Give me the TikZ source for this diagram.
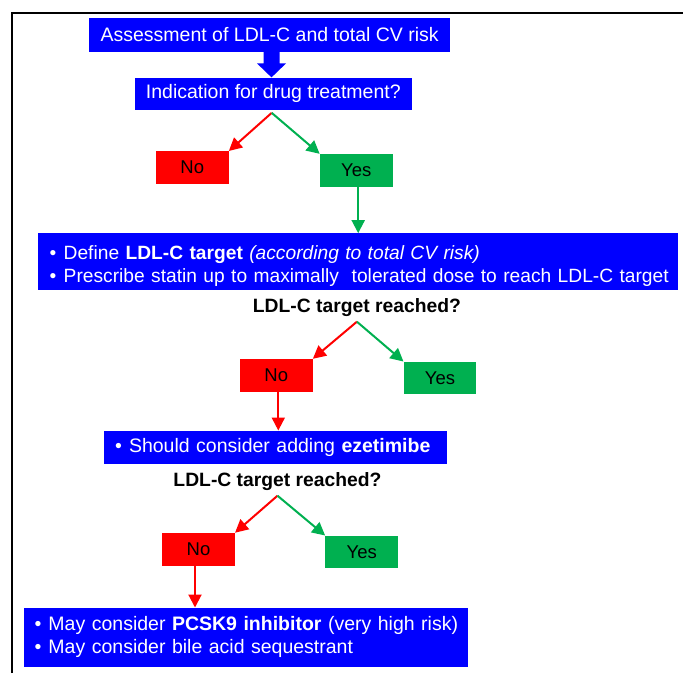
\documentclass[tikz,border=0pt]{standalone}
\usepackage{fontspec}
\setmainfont{Liberation Sans}
\usetikzlibrary{arrows.meta,calc}
\definecolor{pblue}{RGB}{0,0,255}
\definecolor{pred}{RGB}{255,0,0}
\definecolor{pgreen}{RGB}{0,176,80}
\newcommand{\bul}{\makebox[14pt][l]{•}}
\begin{document}
\begin{tikzpicture}[x=1pt,y=-1pt,
  bluebox/.style={fill=pblue,text=white,inner sep=0pt,font=\fontsize{19.5}{23.3}\selectfont},
  choice/.style={text=black,inner sep=0pt,font=\fontsize{18.5}{20}\selectfont,minimum width=72.7pt,minimum height=32.6pt},
  nobox/.style={choice,fill=pred},
  yesbox/.style={choice,fill=pgreen},
  question/.style={font=\bfseries\fontsize{19.3}{22}\selectfont,inner sep=0pt,anchor=base},
  redarr/.style={draw=pred,line width=2pt,-{Triangle[length=13pt,width=13pt]}},
  greenarr/.style={draw=pgreen,line width=2pt,-{Triangle[length=13pt,width=13pt]}},
  frameline/.style={line width=2pt,draw=black}
]
\useasboundingbox (0,0) rectangle (683,673);
% frame
\draw[frameline] (11.5,673) -- (11.5,12.5) -- (683,12.5);

% boxes
\node[bluebox,minimum width=360.7pt,minimum height=33.4pt] (box1) at (269.7,35) {Assessment of LDL-C and total CV risk};
\node[bluebox,minimum width=276.6pt,minimum height=32.3pt] (box2) at (273.3,93.8) {Indication for drug treatment?};

\node[nobox] (no1) at (192.3,167.5) {No};
\node[yesbox] (yes1) at (356.2,170.3) {Yes};

\node[bluebox,font=\fontsize{19.2}{23.3}\selectfont,align=left,inner xsep=12pt,text width=616.6pt,minimum height=56.7pt] (box3) at (358,261.7)
  {\mbox{\rule{0pt}{23pt}\bul Define \textbf{LDL-C target} \textit{(according to total CV risk)}}\\
   \mbox{\bul Prescribe statin up to maximally\ \ tolerated dose to reach LDL-C target}};

\node[question] (q2) at (356.9,312.7) {LDL-C target reached?};
\coordinate (q2s) at ([yshift=-9pt]q2.base);
\node[nobox] (no2) at (276.3,375.3) {No};
\node[yesbox] (yes2) at (440,378) {Yes};

\node[bluebox,align=left,inner xsep=11pt,text width=321.3pt,minimum height=32.8pt] (box4) at (275.7,447.1)
  {\mbox{\bul Should consider adding \textbf{ezetimibe}}};

\node[question] (q3) at (277.5,486.7) {LDL-C target reached?};
\coordinate (q3s) at ([yshift=-9pt]q3.base);
\node[nobox] (no3) at (198.5,549.2) {No};
\node[yesbox] (yes3) at (361.7,552) {Yes};

\node[bluebox,align=left,inner xsep=10.5pt,text width=423pt,minimum height=59pt] (box5) at (246,637.2)
  {\mbox{\bul May consider \textbf{PCSK9 inhibitor} (very high risk)}\\
   \mbox{\bul May consider bile acid sequestrant}};

% block arrow box1 -> box2
\coordinate (bt) at ([xshift=1.8pt]box1.south);
\fill[pblue] (bt) ++(-8,0) -- ++(16,0) -- ++(0,11.5) -- ++(6.5,0) -- ++(-14.5,14) -- ++(-14.5,-14) -- ++(6.5,0) -- cycle;

% first decision
\coordinate (d1) at ([xshift=-1.6pt,yshift=-2.7pt]box2.south);
\draw[redarr] (d1) -- (no1.north east);
\draw[greenarr] (d1) -- (yes1.north west);
\draw[greenarr] ([xshift=2pt]yes1.south) -- ([xshift=2pt]yes1.south |- box3.north);

% second decision
\draw[redarr] (q2s) -- (no2.north east);
\draw[greenarr] (q2s) -- (yes2.north west);
\draw[redarr] ([xshift=2pt]no2.south) -- ([xshift=2pt]no2.south |- box4.north);

% third decision
\draw[redarr] (q3s) -- (no3.north east);
\draw[greenarr] (q3s) -- (yes3.north west);
\draw[redarr] ([xshift=-3.5pt]no3.south) -- ([xshift=-3.5pt]no3.south |- box5.north);
\end{tikzpicture}
\end{document}
